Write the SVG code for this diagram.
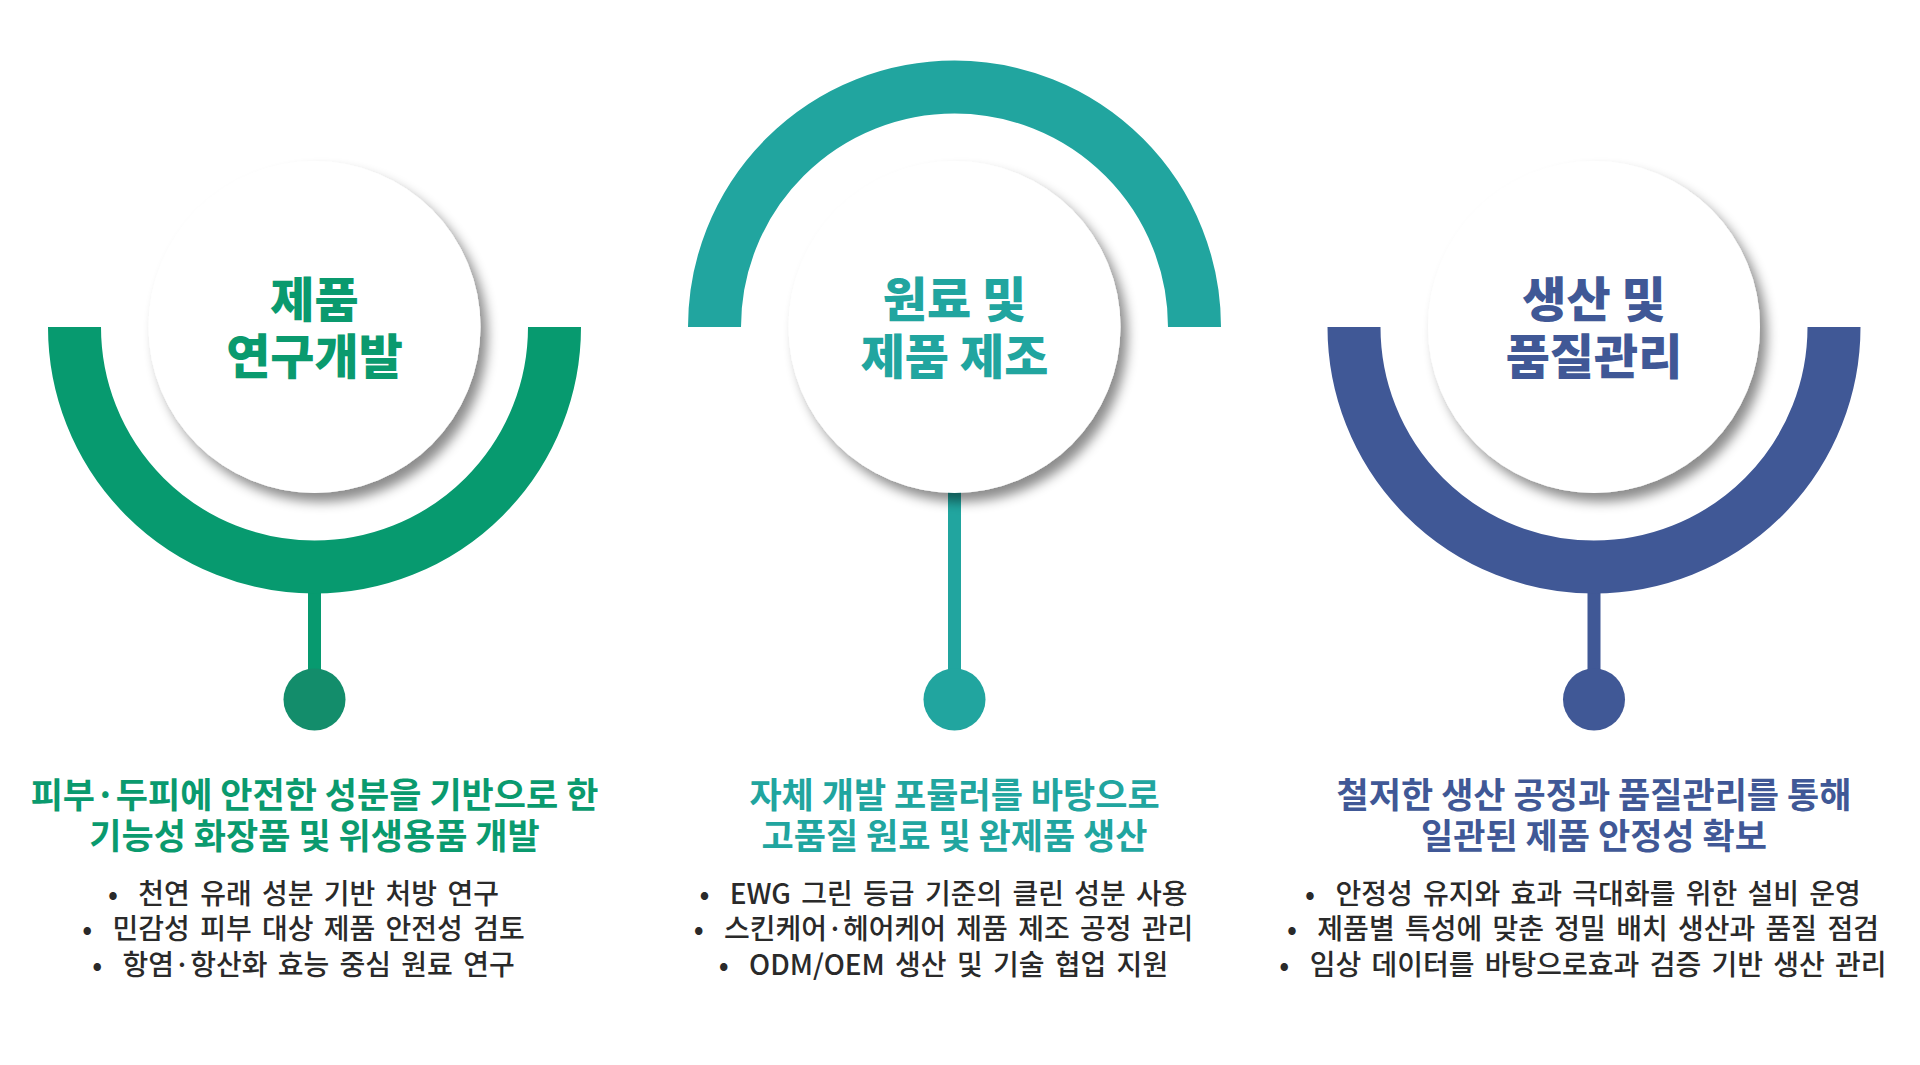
<svg xmlns="http://www.w3.org/2000/svg" width="1920" height="1065" viewBox="0 0 1920 1065">
<defs>
<filter id="sh" x="-30%" y="-30%" width="160%" height="160%">
<feDropShadow dx="7" dy="9" stdDeviation="6" flood-color="#000" flood-opacity="0.45"/>
</filter>
</defs>
<style>
text{font-family:"Noto Sans CJK KR","Noto Sans",sans-serif;text-anchor:middle}
.t{font-size:48px;font-weight:900}
.h{font-size:35px;font-weight:700}
.b{font-size:28px;font-weight:500;fill:#2a2a2a;word-spacing:4px}
.arc{fill:none;stroke-width:53}
.disc{fill:#fff;filter:url(#sh)}
.g{fill:#0A9A6E}.gs{stroke:#079A6F}
.c{fill:#21A59F}.cs{stroke:#21A59F}
.n{fill:#405896}.ns{stroke:#405896}
</style>
<rect width="1920" height="1065" fill="#fff"/>
<g id="connectors">
<line x1="314.5" y1="590" x2="314.5" y2="690" stroke="#079A6F" stroke-width="13"/>
<line x1="954.5" y1="480" x2="954.5" y2="690" stroke="#21A59F" stroke-width="13"/>
<line x1="1594" y1="590" x2="1594" y2="690" stroke="#405896" stroke-width="13"/>
</g>
<g id="node-rnd">
<path class="arc gs" d="M74.5,327 A240,240 0 0 0 554.5,327"/>
<circle class="disc" cx="314.5" cy="327" r="166"/>
<text class="t g" x="314.5" y="317">제품</text>
<text class="t g" x="314.5" y="374">연구개발</text>
<circle cx="314.5" cy="699.5" r="31" fill="#138D6B"/>
<text class="h g" x="314.5" y="808">피부·두피에 안전한 성분을 기반으로 한</text>
<text class="h g" x="314.5" y="849">기능성 화장품 및 위생용품 개발</text>
<text class="b" x="303.5" y="903.5">•<tspan dx="10"> 천연 유래 성분 기반 처방 연구</tspan></text>
<text class="b" x="303.5" y="939">•<tspan dx="10"> 민감성 피부 대상 제품 안전성 검토</tspan></text>
<text class="b" x="303.5" y="974.5">•<tspan dx="10"> 항염·항산화 효능 중심 원료 연구</tspan></text>
</g>
<g id="node-mfg">
<path class="arc cs" d="M714.5,327 A240,240 0 0 1 1194.5,327"/>
<circle class="disc" cx="954.5" cy="327" r="166"/>
<text class="t c" x="954.5" y="317">원료 및</text>
<text class="t c" x="954.5" y="374">제품 제조</text>
<circle cx="954.5" cy="699.5" r="31" fill="#21A59F"/>
<text class="h c" x="954.5" y="808">자체 개발 포뮬러를 바탕으로</text>
<text class="h c" x="954.5" y="849">고품질 원료 및 완제품 생산</text>
<text class="b" x="943.5" y="903.5">•<tspan dx="10"> EWG 그린 등급 기준의 클린 성분 사용</tspan></text>
<text class="b" x="943.5" y="939">•<tspan dx="10"> 스킨케어·헤어케어 제품 제조 공정 관리</tspan></text>
<text class="b" x="943.5" y="974.5">•<tspan dx="10"> ODM/OEM 생산 및 기술 협업 지원</tspan></text>
</g>
<g id="node-qc">
<path class="arc ns" d="M1354,327 A240,240 0 0 0 1834,327"/>
<circle class="disc" cx="1594" cy="327" r="166"/>
<text class="t n" x="1594" y="317">생산 및</text>
<text class="t n" x="1594" y="374">품질관리</text>
<circle cx="1594" cy="699.5" r="31" fill="#405896"/>
<text class="h n" x="1594" y="808">철저한 생산 공정과 품질관리를 통해</text>
<text class="h n" x="1594" y="849">일관된 제품 안정성 확보</text>
<text class="b" x="1583" y="903.5">•<tspan dx="10"> 안정성 유지와 효과 극대화를 위한 설비 운영</tspan></text>
<text class="b" x="1583" y="939">•<tspan dx="10"> 제품별 특성에 맞춘 정밀 배치 생산과 품질 점검</tspan></text>
<text class="b" x="1583" y="974.5">•<tspan dx="10"> 임상 데이터를 바탕으로효과 검증 기반 생산 관리</tspan></text>
</g>
</svg>
